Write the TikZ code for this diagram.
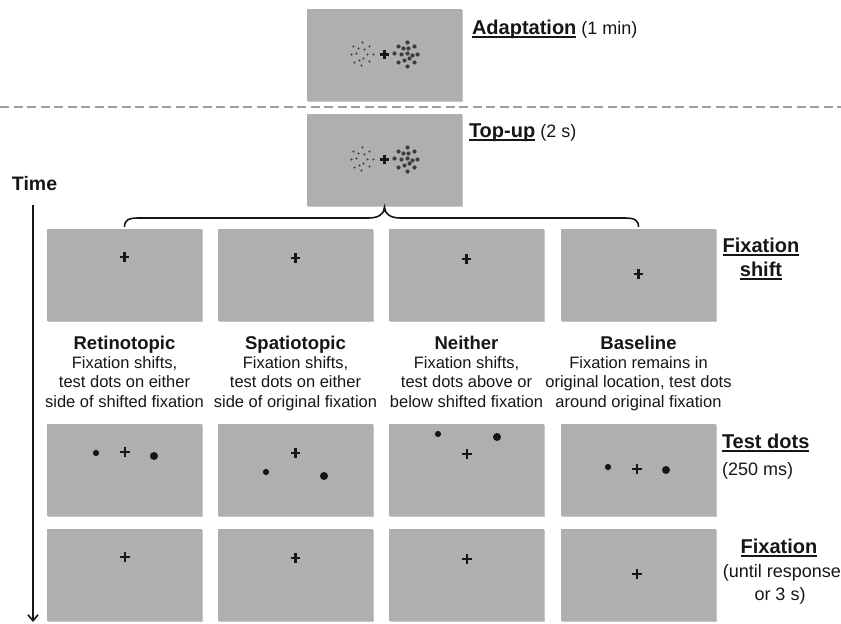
\documentclass[tikz,border=0pt]{standalone}
\usepackage{fontspec}
\setmainfont{Liberation Sans}
\usetikzlibrary{arrows.meta,calc,shadows}

\definecolor{screengray}{RGB}{175,175,175}
\definecolor{ink}{RGB}{22,22,22}
\definecolor{dashgray}{RGB}{158,158,158}
\definecolor{dotgray}{RGB}{60,60,60}

% underline drawn as a rule below the word
\newsavebox\ulbox
\newcommand\ulabel[1]{\sbox\ulbox{#1}\rlap{\rule[-3.8pt]{\wd\ulbox}{1.8pt}}\usebox\ulbox}

\newcommand\headfont{\fontsize{18.5}{22}\selectfont\bfseries}
\newcommand\descfont{\fontsize{16.5}{19.5}\selectfont}
\newcommand\sidebold{\fontsize{20}{24}\selectfont\bfseries}
\newcommand\sidereg{\fontsize{18}{23.5}\selectfont\mdseries}

\tikzset{
  screen/.style={fill=screengray, minimum width=155pt, minimum height=92pt,
    inner sep=0pt, outer sep=0pt,
    drop shadow={shadow xshift=0.8pt, shadow yshift=-1.2pt, opacity=0.22, fill=black}},
  txt/.style={inner sep=0pt, outer sep=0pt, text=ink},
  head/.style={txt, font=\headfont, anchor=base},
  desc/.style={txt, font=\descfont, align=center, anchor=north},
  crossmark/.pic={\draw[ink, line width=2.5pt] (-4.8,0) -- (4.8,0) (0,-4.8) -- (0,4.8);},
  smalldot/.pic={\fill[ink] (0,0) circle (3.1pt);},
  bigdot/.pic={\fill[ink] (0,0) circle (4pt);},
  dotcloud/.pic={
    \foreach \dx/\dy in {-31/-8,-22/-12,-15/-8,-26/-6,-20/-5,-33/0,-28/-1,-17/0,
                         -11/0,-25/6,-21/4,-30/8,-15/7,-23/11}
      \fill[dotgray] (\dx,\dy) circle (1.2pt);
    \foreach \dx/\dy in {23/-12,14/-8,30/-8,19/-6,24/-6,10/-1,17/0,23/-1,28/1,
                         33/0,20/6,25/4,14/8,30/8,23/12}
      \fill[dotgray] (\dx,\dy) circle (2.1pt);
    \draw[ink, line width=2.5pt] (-4.8,0) -- (4.8,0) (0,-4.8) -- (0,4.8);
  },
}

\begin{document}
\begin{tikzpicture}[x=1pt, y=-1pt]
\useasboundingbox (0,0) rectangle (841,624);

% adaptation and top-up screens
\node[screen] (adapt) at (384.5,54.5) {};
\node[screen] (topup) at (384.5,159.5) {};
\pic at (adapt.center) {dotcloud};
\pic at (topup.center) {dotcloud};

% separator between adaptation and trials
\coordinate (sepL) at (0,107);
\coordinate (sepR) at (841,107);
\draw[dashgray, line width=2.6pt, dash pattern=on 9pt off 4.5pt] (sepL) -- (sepR);

% screens: fixation shift, test dots, fixation
\foreach \c/\x in {1/124.5, 2/295.5, 3/466.5, 4/638.5} {
  \node[screen] (fs\c) at (\x,274.5) {};
  \node[screen] (td\c) at (\x,470) {};
  \node[screen] (fx\c) at (\x,575) {};
}

% fixation crosses after the shift
\pic at (124.5,257) {crossmark};
\pic at (295.5,258) {crossmark};
\pic at (466.5,259) {crossmark};
\pic at (638.5,274) {crossmark};

% test dots
\pic at (96,453) {smalldot};   \pic at (125,452) {crossmark}; \pic at (154,456) {bigdot};
\pic at (266,472) {smalldot};  \pic at (295.5,453) {crossmark}; \pic at (324,476) {bigdot};
\pic at (438,434) {smalldot};  \pic at (467,454) {crossmark}; \pic at (497,437) {bigdot};
\pic at (608,467) {smalldot};  \pic at (637,469) {crossmark}; \pic at (666,470) {bigdot};

% final fixation
\pic at (125,557) {crossmark};
\pic at (295.5,558) {crossmark};
\pic at (467,559) {crossmark};
\pic at (637,574) {crossmark};

% brace from the top-up screen to the four conditions
\coordinate (bl) at (124.5,227);
\coordinate (br) at (638.5,227);
\coordinate (tip) at (384.5,207);
\draw[ink, line width=1.6pt]
  (bl) .. controls +(0,-7) and +(-10,0) .. ($(bl)+(14,-9)$)
  -- ($(tip)+(-16,11)$) .. controls +(10,0) and +(0,7) .. (tip)
  .. controls +(0,7) and +(-10,0) .. ($(tip)+(16,11)$)
  -- ($(br)+(-14,-9)$) .. controls +(10,0) and +(0,-7) .. (br);

% time axis
\node[txt, font=\fontsize{19.5}{22}\selectfont\bfseries, anchor=base west] (time) at (12,190) {Time};
\coordinate (tstart) at (33,205);
\coordinate (tend) at (33,622);
\draw[ink, line width=1.6pt, -{Straight Barb[length=6pt,width=10pt,line width=1.6pt]}] (tstart) -- (tend);

% condition names and descriptions
\node[head] (hret) at (124.5,349) {Retinotopic};
\node[head] (hspa) at (295.5,349) {Spatiotopic};
\node[head] (hnei) at (466.5,349) {Neither};
\node[head] (hbas) at (638.5,349) {Baseline};

\node[desc] (dret) at (124.5,356.5) {Fixation shifts,\\test dots on either\\side of shifted fixation};
\node[desc] (dspa) at (295.5,356.5) {Fixation shifts,\\test dots on either\\side of original fixation};
\node[desc] (dnei) at (466.5,356.5) {Fixation shifts,\\test dots above or\\below shifted fixation};
\node[desc] (dbas) at (638.5,356.5) {Fixation remains in\\original location, test dots\\around original fixation};

% phase labels
\node[txt, anchor=base west] (ladapt) at (472,34) {\sidebold\ulabel{Adaptation}\sidereg\ (1 min)};
\node[txt, anchor=base west] (ltopup) at (469,137) {\sidebold\ulabel{Top-up}\sidereg\ (2 s)};
\node[txt, anchor=base] (lshift1) at (761,252) {\sidebold\ulabel{Fixation}};
\node[txt, anchor=base] (lshift2) at (761,276) {\sidebold\ulabel{shift}};
\node[txt, anchor=base west] (ltest1) at (722,448) {\sidebold\ulabel{Test dots}};
\node[txt, anchor=base west] (ltest2) at (722,475) {\sidereg(250 ms)};
\node[txt, anchor=base] (lfix1) at (779,553) {\sidebold\ulabel{Fixation}};
\node[txt, anchor=base] (lfix2) at (782,577) {\sidereg(until response};
\node[txt, anchor=base] (lfix3) at (780,600) {\sidereg or 3 s)};
\end{tikzpicture}
\end{document}
